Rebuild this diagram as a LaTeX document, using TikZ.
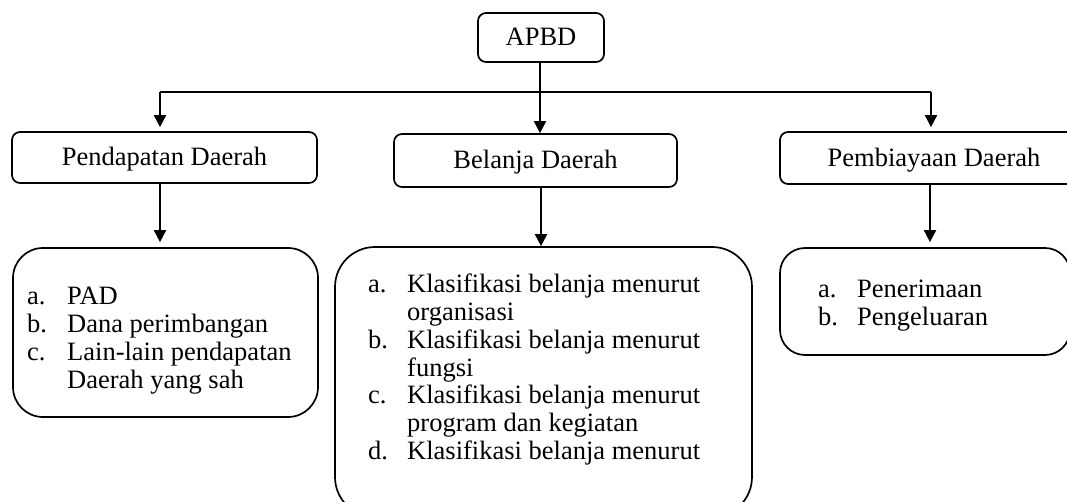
\documentclass[tikz,border=0pt]{standalone}
\usepackage{fontspec}
\setmainfont{Liberation Serif}
\usetikzlibrary{arrows.meta}
\begin{document}
\begin{tikzpicture}[x=1pt,y=-1pt,
  every node/.style={font=\fontsize{26.5}{27.7}\selectfont, inner sep=0pt},
  headbox/.style={draw, line width=1.7pt, rounded corners=8pt, text height=17pt, text depth=0pt, align=center},
  listbox/.style={draw, line width=1.7pt},
  listtext/.style={anchor=base west, align=left},
  link/.style={line width=1.8pt},
  arr/.style={link, -{Triangle[width=12pt,length=12pt]}}
]
\useasboundingbox (0,0) rectangle (1067,502);
\clip (0,0) rectangle (1067,502);

% top-level node and the three headings
\node[headbox, minimum width=126pt, minimum height=49pt] (apbd) at (541,37.5) {APBD};
\node[headbox, minimum width=305pt, minimum height=51pt] (pend) at (164.5,157.5) {Pendapatan Daerah};
\node[headbox, minimum width=283pt, minimum height=53pt] (bel)  at (535.5,160.5) {Belanja Daerah};
\node[headbox, minimum width=308pt, minimum height=52pt] (pemb) at (934,158) {Pembiayaan Daerah};

% detail boxes
\node[listbox, rounded corners=30pt, minimum width=305pt, minimum height=169pt] (lpend) at (165.5,332.5) {};
\node[listbox, rounded corners=40pt, minimum width=417pt, minimum height=270pt] (lbel) at (543.5,382) {};
\node[listbox, rounded corners=25pt, minimum width=290pt, minimum height=107pt] (lpemb) at (925,301.5) {};

% list contents
\node[listtext] (tpend) at (27,305) {\begin{tabular}[t]{@{}p{40pt}@{}l@{}}
a. & PAD\\
b. & Dana perimbangan\\
c. & Lain-lain pendapatan\\
   & Daerah yang sah
\end{tabular}};
\node[listtext] (tbel) at (368,293) {\begin{tabular}[t]{@{}p{39pt}@{}l@{}}
a. & Klasifikasi belanja menurut\\
   & organisasi\\
b. & Klasifikasi belanja menurut\\
   & fungsi\\
c. & Klasifikasi belanja menurut\\
   & program dan kegiatan\\
d. & Klasifikasi belanja menurut
\end{tabular}};
\node[listtext] (tpemb) at (818,298) {\begin{tabular}[t]{@{}p{39pt}@{}l@{}}
a. & Penerimaan\\
b. & Pengeluaran
\end{tabular}};

% branching connectors
\coordinate (hl) at (160,92);
\coordinate (hr) at (931,92);
\coordinate (apbdout) at ([xshift=-1pt]apbd.south);
\coordinate (belout) at ([xshift=5.5pt]bel.south);
\coordinate (pendout) at ([xshift=-4.5pt]pend.south);
\coordinate (pembout) at ([xshift=-4pt]pemb.south);
\draw[arr] (apbdout) -- (apbdout |- bel.north);
\draw[link] (hl) -- (hr);
\draw[arr, shorten >=4pt] (hl) -- (hl |- pend.north);
\draw[arr, shorten >=4pt] (hr) -- (hr |- pemb.north);

\draw[arr, shorten >=5pt] (pendout) -- (pendout |- lpend.north);
\draw[arr] (belout) -- (belout |- lbel.north);
\draw[arr, shorten >=5pt] (pembout) -- (pembout |- lpemb.north);
\end{tikzpicture}
\end{document}
